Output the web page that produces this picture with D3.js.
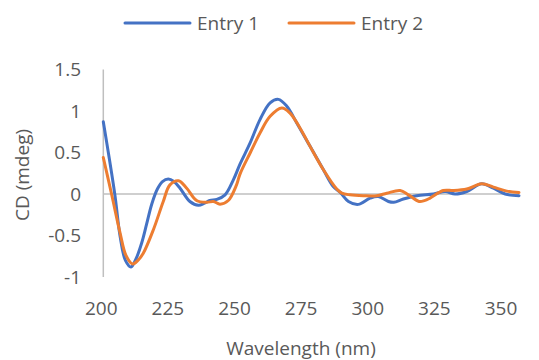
<!DOCTYPE html>
<html>
<head>
<meta charset="utf-8">
<script src="https://cdn.jsdelivr.net/npm/d3@7"></script>
<style>
    body { margin: 0; background: #fff; }
    text { font-family: "Open Sans", sans-serif; fill: #595959; }
</style>
</head>
<body>
<div id="chart"></div>
<script>
// Entry 1 (blue)
const wl1 = [200, 204.3, 206.3, 208.3, 210.4, 212.3, 214.4, 216.2, 218.2, 220.3, 222.2, 224.4, 226.5, 228.8, 232.5, 235.7, 238, 240, 242.6, 245.7, 248.8, 251.3, 255.1, 258.8, 262.6, 265.7, 268.8, 272.6, 277.6, 282.6, 286.3, 288.9, 292, 295.7, 300.1, 303.2, 307, 309, 312.6, 317.6, 323.9, 328.3, 332, 336.4, 342, 346.4, 350.8, 356];
const cd1 = [0.87, 0, -0.51, -0.8, -0.88, -0.78, -0.59, -0.37, -0.12, 0.06, 0.15, 0.18, 0.15, 0.07, -0.09, -0.135, -0.11, -0.078, -0.065, -0.01, 0.17, 0.36, 0.615, 0.896, 1.098, 1.14, 1.06, 0.856, 0.574, 0.292, 0.09, 0.02, -0.09, -0.125, -0.05, -0.03, -0.09, -0.1, -0.06, -0.02, 0, 0.03, 0, 0.03, 0.123, 0.07, 0, -0.02];

// Entry 2 (orange)
const wl2 = [200, 203.1, 206.3, 208.5, 211, 213, 215, 218.8, 222.5, 225, 228.2, 231.3, 235, 238.8, 241.3, 243.8, 246.9, 250, 251.3, 255.1, 258.8, 262.6, 267, 270, 273.8, 277.6, 282.6, 287.6, 289.5, 292.6, 297.6, 302.6, 306.4, 311.4, 314.5, 318.5, 320.5, 322.6, 327.6, 331.4, 336.4, 342, 346.4, 351.4, 356];
const cd2 = [0.44, 0, -0.47, -0.74, -0.843, -0.8, -0.714, -0.43, -0.09, 0.11, 0.16, 0.07, -0.078, -0.1, -0.09, -0.122, -0.078, 0.11, 0.24, 0.494, 0.735, 0.936, 1.037, 0.977, 0.796, 0.574, 0.292, 0.06, 0.01, -0.01, -0.02, -0.02, 0.01, 0.042, -0.01, -0.09, -0.08, -0.05, 0.042, 0.042, 0.06, 0.123, 0.083, 0.035, 0.018];

const seriesNames = ["Entry 1", "Entry 2"];
const seriesColors = ["#4472C4", "#ED7D31"];
const xTicks = [200, 225, 250, 275, 300, 325, 350];
const yTicks = [-1, -0.5, 0, 0.5, 1, 1.5];

const width = 539, height = 360;

const svg = d3.select("#chart")
    .append("svg")
    .attr("width", width)
    .attr("height", height);

const x = d3.scaleLinear().domain([200, 356]).range([103.3, 519]);
const y = d3.scaleLinear().domain([-1, 1.5]).range([277, 69.5]);

// axis lines
svg.append("line")
    .attr("x1", x(200)).attr("x2", x(200))
    .attr("y1", y(1.5)).attr("y2", y(-1))
    .attr("stroke", "#BFBFBF").attr("stroke-width", 1.5);
svg.append("line")
    .attr("x1", x(200)).attr("x2", x(356))
    .attr("y1", y(0)).attr("y2", y(0))
    .attr("stroke", "#BFBFBF").attr("stroke-width", 1.5);

// tick labels
svg.selectAll(".ytick")
    .data(yTicks)
    .enter().append("text")
    .attr("class", "ytick")
    .attr("x", 81)
    .attr("y", d => y(d))
    .attr("dy", "0.35em")
    .attr("text-anchor", "end")
    .attr("font-size", 19)
    .text(d => d);

svg.selectAll(".xtick")
    .data(xTicks)
    .enter().append("text")
    .attr("class", "xtick")
    .attr("x", d => x(d) - 2)
    .attr("y", 308)
    .attr("dy", "0.35em")
    .attr("text-anchor", "middle")
    .attr("font-size", 19)
    .text(d => d);

// axis titles
svg.append("text")
    .attr("x", 301)
    .attr("y", 348)
    .attr("dy", "0.35em")
    .attr("text-anchor", "middle")
    .attr("font-size", 19)
    .text("Wavelength (nm)");

svg.append("text")
    .attr("transform", "translate(22, 175) rotate(-90)")
    .attr("dy", "0.35em")
    .attr("text-anchor", "middle")
    .attr("font-size", 19)
    .text("CD (mdeg)");

// lines
const line = d3.line()
    .x(d => x(d[0]))
    .y(d => y(d[1]))
    .curve(d3.curveCatmullRom.alpha(0.5));

const series = [d3.zip(wl1, cd1), d3.zip(wl2, cd2)];

series.forEach((pts, i) => {
    svg.append("path")
        .datum(pts)
        .attr("fill", "none")
        .attr("stroke", seriesColors[i])
        .attr("stroke-width", 3)
        .attr("stroke-linejoin", "round")
        .attr("stroke-linecap", "round")
        .attr("d", line);
});

// legend
const legendX = [125, 289];
seriesNames.forEach((name, i) => {
    const g = svg.append("g").attr("transform", `translate(${legendX[i]}, 23)`);
    g.append("line")
        .attr("x1", 0).attr("x2", 65)
        .attr("y1", 0).attr("y2", 0)
        .attr("stroke", seriesColors[i])
        .attr("stroke-width", 3)
        .attr("stroke-linecap", "round");
    g.append("text")
        .attr("x", 72)
        .attr("y", 0)
        .attr("dy", "0.35em")
        .attr("font-size", 19)
        .text(name);
});
</script>
</body>
</html>
